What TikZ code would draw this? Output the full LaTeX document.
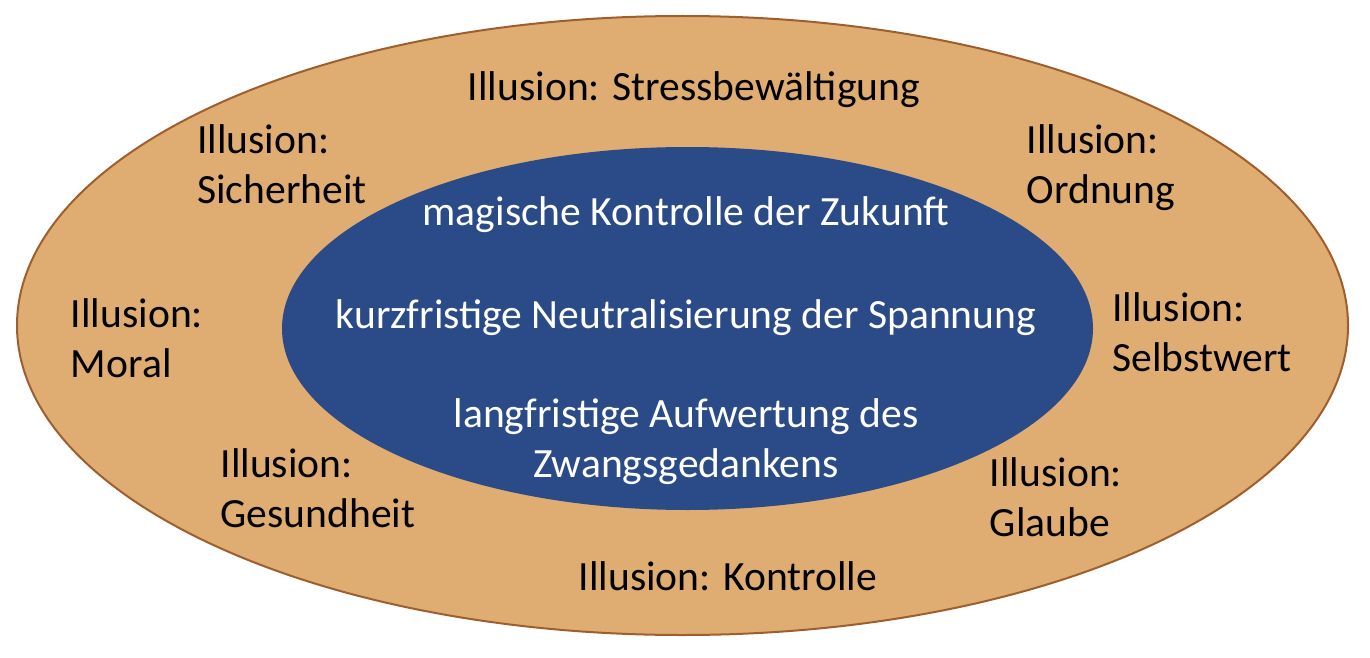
\documentclass[tikz,border=0pt]{standalone}
\usepackage{fontspec}
\setmainfont{Carlito}
\usetikzlibrary{shapes.geometric}
\definecolor{outerfill}{RGB}{223,173,113}
\definecolor{outerline}{RGB}{158,94,45}
\definecolor{innerfill}{RGB}{42,75,135}
\tikzstyle{outerring}=[ellipse,draw=outerline,line width=1pt,fill=outerfill,minimum width=665.5pt,minimum height=309.5pt,inner sep=0pt]
\tikzstyle{innerring}=[ellipse,fill=innerfill,minimum width=405.5pt,minimum height=181.5pt,inner sep=0pt]
\tikzstyle{illusion}=[align=left,inner sep=0pt,font=\fontsize{20.8}{25}\selectfont]
\tikzstyle{effect}=[align=center,inner sep=0pt,text=white,font=\fontsize{20.8}{25}\selectfont]
\begin{document}
\begin{tikzpicture}[x=0.5pt,y=-0.5pt]
  \useasboundingbox (0,0) rectangle (1370,658);

  \node[outerring] (outer) at (682.5,325.5) {};
  \node[innerring] (inner) at (687.5,328.5) {};

  \foreach \pos/\name/\label in {{(694,90)/stress/{Illusion: Stressbewältigung}},
      {(282,164)/sicher/{Illusion:\\Sicherheit}}, {(1101,168)/ordnung/{Illusion:\\Ordnung}},
      {(137,338)/moral/{Illusion:\\Moral}}, {(1202,332)/selbst/{Illusion:\\Selbstwert}},
      {(318,488)/gesund/{Illusion:\\Gesundheit}}, {(1056,497)/glaube/{Illusion:\\Glaube}},
      {(728,576)/kontrolle/{Illusion: Kontrolle}}}
    \node[illusion] (\name) at \pos {\label};

  \foreach \pos/\name/\label in {{(686,215)/zukunft/{magische Kontrolle der Zukunft}},
      {(686,318)/spannung/{kurzfristige Neutralisierung der Spannung}},
      {(686,442)/aufwertung/{langfristige Aufwertung des\\Zwangsgedankens}}}
    \node[effect] (\name) at \pos {\label};

\end{tikzpicture}
\end{document}
